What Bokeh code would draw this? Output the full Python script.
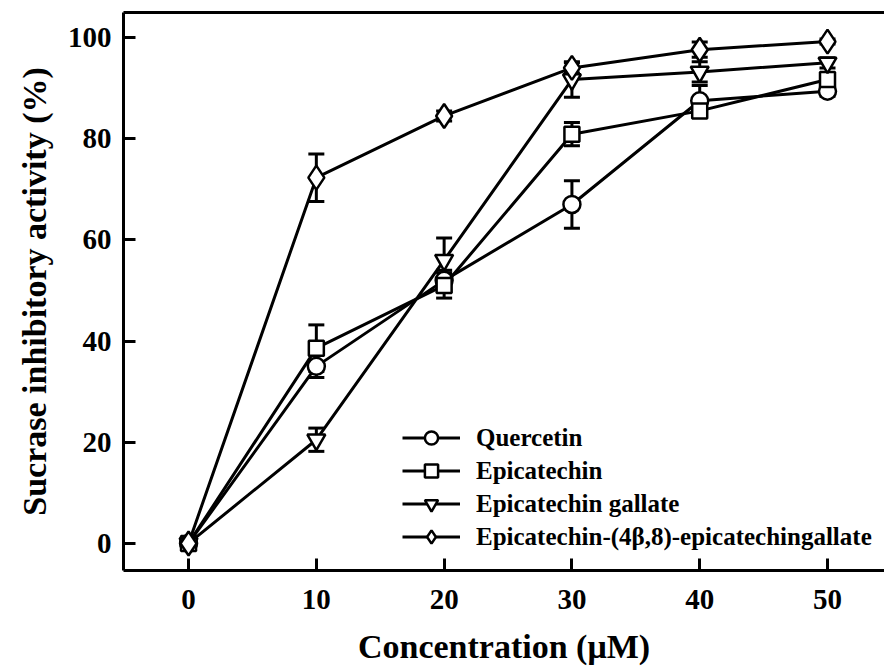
from bokeh.plotting import figure
from bokeh.models import (ColumnDataSource, Whisker, TeeHead, Legend, LegendItem,
                          LinearAxis, FixedTicker, Range1d)
from bokeh.embed import file_html
from bokeh.resources import INLINE

conc = [0, 10, 20, 30, 40, 50]

quercetin = [0, 35.0, 52.0, 67.0, 87.5, 89.4]
quercetin_err = [0.5, 2.2, 2.0, 4.7, 3.0, 1.0]

epicatechin = [0, 38.6, 51.0, 80.9, 85.5, 91.7]
epicatechin_err = [0.5, 4.6, 2.5, 2.3, 1.0, 1.0]

ecg = [0, 20.5, 56.0, 91.7, 93.2, 95.0]
ecg_err = [0.5, 2.3, 4.4, 3.5, 2.0, 1.0]

dimer = [0, 72.3, 84.5, 94.0, 97.6, 99.2]
dimer_err = [0.5, 4.7, 1.0, 1.0, 1.5, 0.5]

series_names = ["Quercetin", "Epicatechin", "Epicatechin gallate",
                "Epicatechin-(4\u03b2,8)-epicatechingallate"]
series_vals = [quercetin, epicatechin, ecg, dimer]
series_errs = [quercetin_err, epicatechin_err, ecg_err, dimer_err]
markers = ["circle", "square", "inverted_triangle", "diamond"]
msizes = [17, 15, 18, 24]

x_ticks = [0, 10, 20, 30, 40, 50]
y_ticks = [0, 20, 40, 60, 80, 100]

FONT = "Liberation Serif"

p = figure(width=884, height=672, output_backend="svg", toolbar_location=None,
           x_range=Range1d(-5.09, 54.46), y_range=Range1d(-5.35, 104.95),
           min_border_left=123, min_border_top=12, min_border_right=0,
           min_border_bottom=102)
p.grid.visible = False
p.outline_line_color = None
p.background_fill_color = "white"
p.border_fill_color = "white"

for ax in (p.xaxis[0], p.yaxis[0]):
    ax.axis_line_width = 3
    ax.axis_line_color = "black"
    ax.major_tick_line_width = 3
    ax.major_tick_in = 12
    ax.major_tick_out = 0
    ax.minor_tick_line_color = None
    ax.major_label_text_font = FONT
    ax.major_label_text_font_style = "bold"
    ax.major_label_text_font_size = "29px"
    ax.major_label_text_color = "black"
    ax.axis_label_text_font = FONT
    ax.axis_label_text_font_style = "bold"
    ax.axis_label_text_font_size = "34px"
    ax.axis_label_text_color = "black"

p.xaxis[0].ticker = FixedTicker(ticks=x_ticks)
p.yaxis[0].ticker = FixedTicker(ticks=y_ticks)
p.xaxis[0].axis_label = "Concentration (\u03bcM)"
p.yaxis[0].axis_label = "Sucrase inhibitory activity (%)"
p.xaxis[0].major_label_standoff = 19
p.yaxis[0].major_label_standoff = 12
p.xaxis[0].axis_label_standoff = 16
p.yaxis[0].axis_label_standoff = 12

top = LinearAxis(ticker=FixedTicker(ticks=[]), axis_line_width=3,
                 major_tick_line_color=None, minor_tick_line_color=None,
                 major_label_text_font_size="0px")
p.add_layout(top, "above")

items = []
for name, vals, errs, mk, ms in zip(series_names, series_vals, series_errs, markers, msizes):
    up = [v + e for v, e in zip(vals, errs)]
    lo = [v - e for v, e in zip(vals, errs)]
    src = ColumnDataSource(dict(x=conc, y=vals, up=up, lo=lo))
    w = Whisker(source=src, base="x", upper="up", lower="lo",
                line_width=3, line_color="black",
                upper_head=TeeHead(size=16, line_width=3, line_color="black"),
                lower_head=TeeHead(size=16, line_width=3, line_color="black"))
    p.add_layout(w)
    lr = p.line("x", "y", source=src, line_width=3, line_color="black")
    sr = p.scatter("x", "y", source=src, marker=mk, size=ms, fill_color="white",
                   line_color="black", line_width=2.5)
    items.append(LegendItem(label=name, renderers=[lr, sr]))

legend = Legend(items=items, location=(279, 17), padding=0, margin=0, spacing=0,
                glyph_width=58, glyph_height=33, label_height=33, label_standoff=16,
                label_text_font=FONT, label_text_font_style="bold",
                label_text_font_size="25px", label_text_color="black",
                background_fill_alpha=0, border_line_color=None)
p.add_layout(legend)

open("out.html", "w").write(file_html(p, INLINE))
